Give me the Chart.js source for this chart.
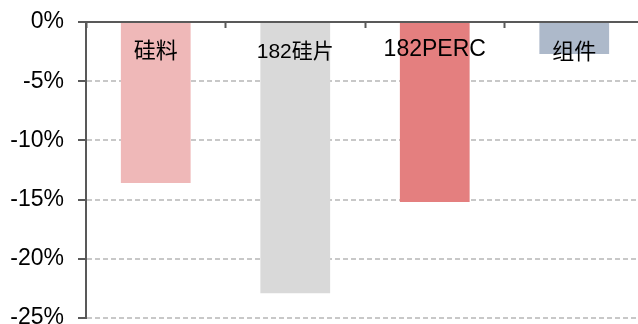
<!DOCTYPE html>
<html>
<head>
<meta charset="utf-8">
<script src="https://cdn.jsdelivr.net/npm/chart.js@4/dist/chart.umd.min.js"></script>
<style>
  html, body { margin: 0; padding: 0; background: #fff; }
  #wrap { width: 638px; height: 324px; overflow: hidden; }
</style>
</head>
<body>
<div id="wrap"><canvas id="chart" width="660" height="324"></canvas></div>
<script>
// price change by segment, %
const categories = ["硅料", "182硅片", "182PERC", "组件"];
const changes = [-13.6, -22.9, -15.2, -2.7];
const barColors = ["#efb8b8", "#d9d9d9", "#e47f7f", "#adb9ca"];
const yTicks = [0, -5, -10, -15, -20, -25];

const axisColor = "#595959";

// category names written inside the top of each bar
const topLabels = {
    id: "topLabels",
    afterDatasetsDraw(chart) {
        const ctx = chart.ctx;
        const x = chart.scales.x;
        const sizes = [22, 21, 23, 22];
        const ys = [52, 52, 50, 53];
        ctx.save();
        ctx.fillStyle = "#000";
        ctx.textAlign = "center";
        ctx.textBaseline = "middle";
        categories.forEach((name, i) => {
            ctx.font = sizes[i] + 'px "Liberation Sans", Arial, "Noto Sans CJK SC"';
            ctx.fillText(name, x.getPixelForValue(i), ys[i]);
        });
        ctx.restore();
    }
};

new Chart(document.getElementById("chart"), {
    type: "bar",
    data: {
        labels: categories,
        datasets: [{
            data: changes,
            backgroundColor: barColors,
            barPercentage: 0.5,
            categoryPercentage: 1
        }]
    },
    options: {
        responsive: false,
        animation: false,
        layout: { padding: { top: 0, left: 0, right: 16, bottom: 6 } },
        plugins: {
            legend: { display: false },
            tooltip: { enabled: false }
        },
        scales: {
            x: {
                position: "top",
                ticks: { display: false },
                grid: {
                    drawOnChartArea: false,
                    tickLength: -6,
                    tickColor: axisColor,
                    tickWidth: 2
                },
                border: { color: axisColor, width: 2 },
                afterFit: s => {
                    s.height = 22;
                    s.paddingLeft = 0;
                    s.paddingRight = 0;
                }
            },
            y: {
                min: -25,
                max: 0,
                afterBuildTicks: s => {
                    s.ticks = yTicks.map(v => ({ value: v }));
                },
                ticks: {
                    padding: 14,
                    color: "#000",
                    font: { family: '"Liberation Sans", Arial', size: 23 },
                    callback: v => v + "%"
                },
                grid: {
                    color: "#c8c8c8",
                    lineWidth: 2,
                    tickLength: 8,
                    tickColor: axisColor,
                    tickWidth: 2,
                    tickBorderDash: []
                },
                border: { color: axisColor, width: 2, dash: [5, 3] },
                afterFit: s => {
                    s.width = 86;
                    s.paddingTop = 0;
                    s.paddingBottom = 0;
                }
            }
        }
    },
    plugins: [topLabels]
});
</script>
</body>
</html>
